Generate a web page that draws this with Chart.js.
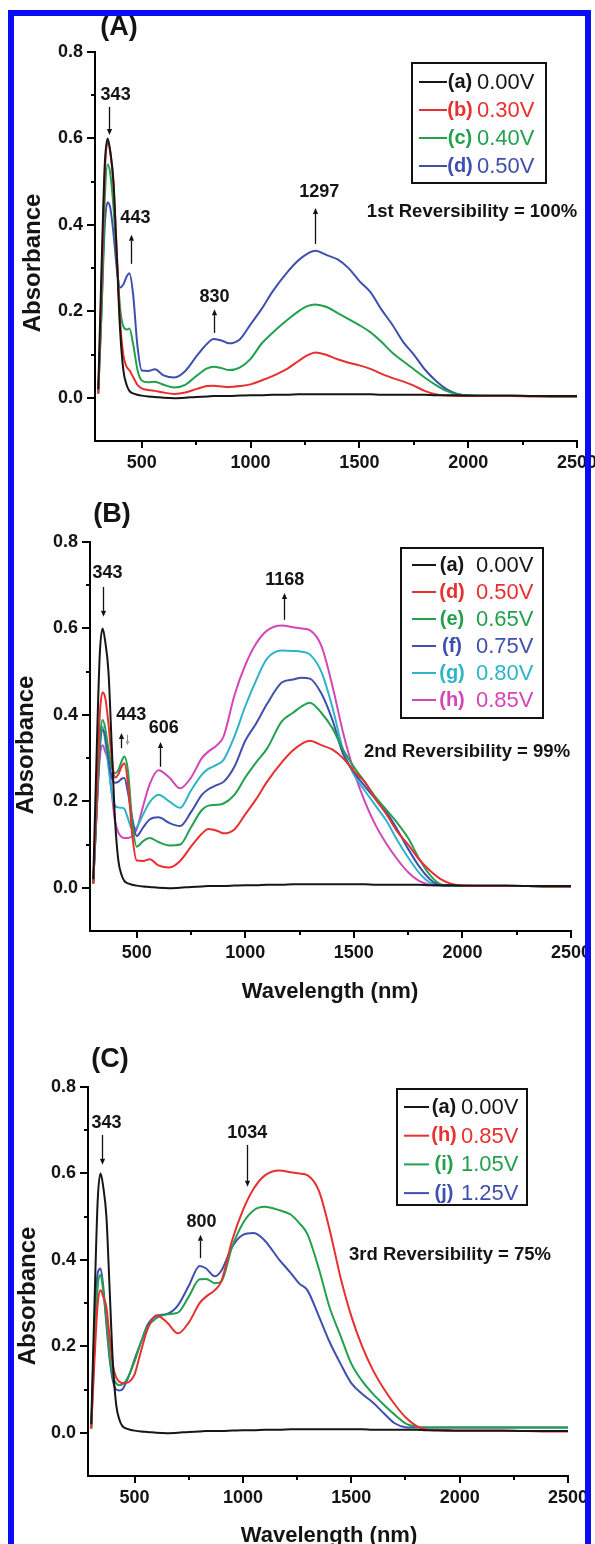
<!DOCTYPE html>
<html>
<head>
<meta charset="utf-8">
<title>Absorbance spectra at applied potentials</title>
<script src="https://cdn.jsdelivr.net/npm/chart.js@4.4.1/dist/chart.umd.min.js"></script>
<style>
  html, body { margin: 0; padding: 0; background: #fff; }
  #page { position: relative; width: 595px; height: 1544px; overflow: hidden; background: #fff; }
  #page canvas { position: absolute; left: 0; }
  #frame {
    position: absolute; left: 8px; top: 10px; width: 583px; height: 1540px;
    border: 6px solid #0a0cf2; box-sizing: border-box; pointer-events: none; z-index: 5;
  }
</style>
</head>
<body>
<div id="page">
  <canvas id="panel-a" width="595" height="490" style="top:0px"></canvas>
  <canvas id="panel-b" width="595" height="520" style="top:490px"></canvas>
  <canvas id="panel-c" width="595" height="534" style="top:1010px"></canvas>
  <div id="frame"></div>
</div>

<script>
// Wavelength grid (nm) shared by every spectrum
const wavelengths = [
  300, 315, 330, 343, 355, 370, 385, 400, 415, 430,
  443, 460, 480, 500, 530, 560, 600, 650, 700, 750,
  800, 830, 870, 900, 950, 1000, 1050, 1100, 1168, 1220,
  1260, 1297, 1350, 1400, 1450, 1500, 1550, 1600, 1650, 1700,
  1750, 1800, 1850, 1900, 1950, 2000, 2100, 2200, 2300, 2400,
  2500
];

// Absorbance at each applied potential
const abs000 = [
  0.02, 0.30, 0.54, 0.60, 0.57, 0.50, 0.33, 0.16, 0.065, 0.03,
  0.016, 0.010, 0.007, 0.005, 0.003, 0.002, 0.000, -0.001, 0.000, 0.002,
  0.003, 0.004, 0.004, 0.004, 0.005, 0.006, 0.006, 0.007, 0.007, 0.008,
  0.008, 0.008, 0.008, 0.008, 0.008, 0.008, 0.008, 0.007, 0.007, 0.007,
  0.007, 0.007, 0.006, 0.006, 0.006, 0.005, 0.005, 0.005, 0.004, 0.004,
  0.004
];
const abs030 = [
  0.01, 0.25, 0.52, 0.59, 0.57, 0.49, 0.34, 0.18, 0.10, 0.072,
  0.064, 0.048, 0.030, 0.022, 0.018, 0.016, 0.012, 0.009, 0.012, 0.020,
  0.027, 0.028, 0.026, 0.025, 0.027, 0.031, 0.040, 0.050, 0.067, 0.085,
  0.098, 0.105, 0.099, 0.089, 0.081, 0.075, 0.067, 0.056, 0.046, 0.038,
  0.028, 0.016, 0.008, 0.005, 0.004, 0.004, 0.004, 0.004, 0.003, 0.003,
  0.003
];
const abs040 = [
  0.01, 0.20, 0.46, 0.54, 0.52, 0.44, 0.32, 0.21, 0.165, 0.158,
  0.160, 0.125, 0.065, 0.040, 0.036, 0.037, 0.030, 0.024, 0.030, 0.050,
  0.068, 0.072, 0.068, 0.064, 0.070, 0.090, 0.125, 0.150, 0.180, 0.200,
  0.212, 0.216, 0.210, 0.196, 0.182, 0.168, 0.152, 0.130, 0.105, 0.085,
  0.066, 0.047, 0.030, 0.016, 0.008, 0.005, 0.004, 0.004, 0.004, 0.003,
  0.003
];
const abs050 = [
  0.01, 0.20, 0.40, 0.452, 0.44, 0.38, 0.30, 0.255, 0.262, 0.280,
  0.288, 0.240, 0.120, 0.063, 0.062, 0.066, 0.052, 0.047, 0.062, 0.095,
  0.125, 0.136, 0.132, 0.126, 0.135, 0.170, 0.205, 0.245, 0.290, 0.318,
  0.333, 0.340, 0.330, 0.320, 0.300, 0.270, 0.245, 0.205, 0.170, 0.130,
  0.100, 0.066, 0.040, 0.020, 0.009, 0.005, 0.004, 0.004, 0.004, 0.003,
  0.003
];
const abs065 = [
  0.01, 0.18, 0.34, 0.388, 0.37, 0.32, 0.28, 0.265, 0.272, 0.292,
  0.304, 0.270, 0.150, 0.095, 0.108, 0.115, 0.106, 0.098, 0.100, 0.140,
  0.180, 0.190, 0.192, 0.195, 0.215, 0.255, 0.290, 0.322, 0.385, 0.405,
  0.420, 0.428, 0.405, 0.370, 0.320, 0.280, 0.245, 0.210, 0.180, 0.150,
  0.115, 0.068, 0.030, 0.008, 0.005, 0.004, 0.004, 0.004, 0.004, 0.003,
  0.003
];
const abs075 = [
  0.01, 0.17, 0.32, 0.365, 0.35, 0.30, 0.255, 0.243, 0.245, 0.252,
  0.254, 0.220, 0.160, 0.120, 0.140, 0.158, 0.163, 0.150, 0.143, 0.175,
  0.215, 0.228, 0.238, 0.245, 0.280, 0.340, 0.380, 0.425, 0.475, 0.482,
  0.486, 0.484, 0.450, 0.390, 0.310, 0.268, 0.235, 0.205, 0.175, 0.135,
  0.090, 0.050, 0.020, 0.006, 0.005, 0.004, 0.004, 0.004, 0.004, 0.003,
  0.003
];
const abs080 = [
  0.01, 0.17, 0.33, 0.373, 0.34, 0.28, 0.22, 0.190, 0.186, 0.185,
  0.183, 0.160, 0.135, 0.140, 0.170, 0.198, 0.215, 0.200, 0.185, 0.225,
  0.262, 0.275, 0.285, 0.296, 0.350, 0.420, 0.480, 0.530, 0.549, 0.548,
  0.546, 0.540, 0.500, 0.420, 0.320, 0.262, 0.225, 0.190, 0.155, 0.110,
  0.070, 0.035, 0.012, 0.006, 0.005, 0.004, 0.004, 0.004, 0.004, 0.003,
  0.003
];
const abs085 = [
  0.01, 0.17, 0.30, 0.330, 0.315, 0.29, 0.22, 0.155, 0.128, 0.118,
  0.115, 0.115, 0.120, 0.135, 0.190, 0.240, 0.272, 0.255, 0.230, 0.255,
  0.300, 0.315, 0.330, 0.350, 0.445, 0.515, 0.565, 0.595, 0.607, 0.603,
  0.600, 0.596, 0.560, 0.470, 0.360, 0.270, 0.200, 0.145, 0.102, 0.066,
  0.036, 0.016, 0.007, 0.005, 0.004, 0.004, 0.004, 0.004, 0.004, 0.003,
  0.003
];
const abs105 = [
  0.01, 0.20, 0.34, 0.365, 0.33, 0.26, 0.18, 0.130, 0.115, 0.110,
  0.112, 0.120, 0.140, 0.165, 0.210, 0.245, 0.265, 0.274, 0.278, 0.315,
  0.355, 0.356, 0.346, 0.350, 0.430, 0.485, 0.515, 0.523, 0.515, 0.505,
  0.485, 0.460, 0.380, 0.290, 0.225, 0.160, 0.120, 0.090, 0.065, 0.042,
  0.022, 0.014, 0.012, 0.012, 0.012, 0.012, 0.012, 0.012, 0.012, 0.012,
  0.012
];
const abs125 = [
  0.01, 0.25, 0.37, 0.380, 0.34, 0.25, 0.17, 0.120, 0.100, 0.098,
  0.100, 0.115, 0.140, 0.170, 0.210, 0.250, 0.270, 0.275, 0.295, 0.340,
  0.386, 0.380, 0.362, 0.375, 0.430, 0.458, 0.462, 0.445, 0.400, 0.370,
  0.345, 0.330, 0.270, 0.210, 0.160, 0.115, 0.090, 0.070, 0.045, 0.022,
  0.013, 0.012, 0.012, 0.012, 0.012, 0.012, 0.012, 0.012, 0.012, 0.012,
  0.012
];

// Axis ticks
const xTicks = [500, 1000, 1500, 2000, 2500];
const xMinorTicks = [750, 1250, 1750, 2250];
const yTicks = [0.0, 0.2, 0.4, 0.6, 0.8];
const yMinorTicks = [0.1, 0.3, 0.5, 0.7];

// Legend entries per panel
const namesA = ['(a) 0.00V', '(b) 0.30V', '(c) 0.40V', '(d) 0.50V'];
const namesB = ['(a) 0.00V', '(d) 0.50V', '(e) 0.65V', '(f) 0.75V', '(g) 0.80V', '(h) 0.85V'];
const namesC = ['(a) 0.00V', '(h) 0.85V', '(i) 1.05V', '(j) 1.25V'];

// Marked band positions (nm)
const peaksA = [343, 443, 830, 1297];
const peaksB = [343, 443, 606, 1168];
const peaksC = [343, 800, 1034];

const reversibility = ['1st Reversibility = 100%', '2nd Reversibility = 99%', '3rd Reversibility = 75%'];

const COLORS = {
  black: '#161616',
  red: '#e7302f',
  green: '#22a04e',
  blue: '#3f4fae',
  cyan: '#2db4c6',
  magenta: '#d446b6'
};

const FONT = '"Liberation Sans", Arial, Helvetica, sans-serif';
const TEXT = '#141414';

// width reserved for the y tick labels, height for the x tick labels
const Y_AXIS_W = 70;
const X_AXIS_H = 40;

const panels = [
  {
    canvas: 'panel-a',
    letter: { text: '(A)', x: 119, y: 28 },
    area: { left: 95, top: 52, right: 577, bottom: 441 },
    series: [abs000, abs030, abs040, abs050],
    names: namesA,
    colors: [COLORS.black, COLORS.red, COLORS.green, COLORS.blue],
    legend: { left: 412, top: 63, width: 134, height: 120, first: 19, rowH: 28, line: [419, 447], tagX: 460, voltX: 477 },
    notes: [
      { peak: peaksA[0], dx: 8, textY: 0.700, arrows: [{ dx: 1, from: 0.673, to: 0.608 }] },
      { peak: peaksA[1], dx: 6, textY: 0.416, arrows: [{ dx: 2, from: 0.310, to: 0.377 }] },
      { peak: peaksA[2], dx: 1, textY: 0.233, arrows: [{ dx: 0, from: 0.150, to: 0.205 }] },
      { peak: peaksA[3], dx: 4, textY: 0.476, arrows: [{ dx: 0, from: 0.356, to: 0.439 }] }
    ],
    remark: { text: reversibility[0], x: 472, y: 212 },
    yTitle: { x: 33, y: 263 },
    xTitle: null
  },
  {
    canvas: 'panel-b',
    letter: { text: '(B)', x: 112, y: 25 },
    area: { left: 90, top: 52, right: 571, bottom: 441 },
    series: [abs000, abs050, abs065, abs075, abs080, abs085],
    names: namesB,
    colors: [COLORS.black, COLORS.red, COLORS.green, COLORS.blue, COLORS.cyan, COLORS.magenta],
    legend: { left: 401, top: 58, width: 142, height: 170, first: 17, rowH: 27, line: [412, 436], tagX: 452, voltX: 476 },
    notes: [
      { peak: peaksB[0], dx: 5, textY: 0.728, arrows: [{ dx: 0, from: 0.696, to: 0.627 }] },
      { peak: peaksB[1], dx: 7, textY: 0.400, arrows: [
        { dx: -3.5, from: 0.323, to: 0.358 },
        { dx: 2.5, from: 0.354, to: 0.330, light: true }
      ] },
      { peak: peaksB[2], dx: 4, textY: 0.370, arrows: [{ dx: 0, from: 0.280, to: 0.337 }] },
      { peak: peaksB[3], dx: 3, textY: 0.712, arrows: [{ dx: 2, from: 0.620, to: 0.682 }] }
    ],
    remark: { text: reversibility[1], x: 467, y: 262 },
    yTitle: { x: 26, y: 255 },
    xTitle: { x: 330, y: 502 }
  },
  {
    canvas: 'panel-c',
    letter: { text: '(C)', x: 110, y: 50 },
    area: { left: 88, top: 77, right: 568, bottom: 466 },
    series: [abs000, abs085, abs105, abs125],
    names: namesC,
    colors: [COLORS.black, COLORS.red, COLORS.green, COLORS.blue],
    legend: { left: 397, top: 79, width: 130, height: 116, first: 18, rowH: 28.7, line: [404, 429], tagX: 444, voltX: 461 },
    notes: [
      { peak: peaksC[0], dx: 6, textY: 0.717, arrows: [{ dx: 1, from: 0.689, to: 0.620 }] },
      { peak: peaksC[1], dx: 2, textY: 0.488, arrows: [{ dx: 0, from: 0.404, to: 0.458 }] },
      { peak: peaksC[2], dx: -3, textY: 0.694, arrows: [{ dx: -3, from: 0.666, to: 0.569 }] }
    ],
    remark: { text: reversibility[2], x: 450, y: 245 },
    yTitle: { x: 28, y: 286 },
    xTitle: { x: 329, y: 526 }
  }
];

function drawArrow(ctx, x, y0, y1, light) {
  const dir = y1 > y0 ? 1 : -1;
  const head = light ? 4 : 6;
  const half = light ? 1.8 : 2.6;
  ctx.strokeStyle = light ? '#8a8a8a' : '#111';
  ctx.fillStyle = ctx.strokeStyle;
  ctx.lineWidth = light ? 1 : 1.3;
  ctx.beginPath();
  ctx.moveTo(x, y0);
  ctx.lineTo(x, y1 - dir * head);
  ctx.stroke();
  ctx.beginPath();
  ctx.moveTo(x, y1);
  ctx.lineTo(x - half, y1 - dir * head);
  ctx.lineTo(x + half, y1 - dir * head);
  ctx.closePath();
  ctx.fill();
}

// Draws minor ticks, axis titles, band markers and the boxed legend
function makeDecor(panel) {
  return {
    id: 'spectraDecor',
    afterDraw(chart) {
      const { ctx, chartArea } = chart;
      const xs = chart.scales.x;
      const ys = chart.scales.y;
      ctx.save();

      ctx.strokeStyle = '#000';
      ctx.lineWidth = 2;
      ctx.beginPath();
      xMinorTicks.forEach(v => {
        const px = Math.round(xs.getPixelForValue(v));
        ctx.moveTo(px, chartArea.bottom);
        ctx.lineTo(px, chartArea.bottom + 4);
      });
      yMinorTicks.forEach(v => {
        const py = Math.round(ys.getPixelForValue(v));
        ctx.moveTo(chartArea.left, py);
        ctx.lineTo(chartArea.left - 4, py);
      });
      ctx.stroke();

      ctx.fillStyle = TEXT;
      ctx.textAlign = 'center';
      ctx.textBaseline = 'middle';

      // panel letter
      ctx.font = `bold 27px ${FONT}`;
      ctx.fillText(panel.letter.text, panel.letter.x, panel.letter.y);

      // axis titles
      ctx.font = `bold 24px ${FONT}`;
      ctx.save();
      ctx.translate(panel.yTitle.x, panel.yTitle.y);
      ctx.rotate(-Math.PI / 2);
      ctx.fillText('Absorbance', 0, 0);
      ctx.restore();
      if (panel.xTitle) {
        ctx.font = `bold 22px ${FONT}`;
        ctx.fillText('Wavelength (nm)', panel.xTitle.x, panel.xTitle.y);
      }

      // band labels with arrows
      panel.notes.forEach(note => {
        const px = xs.getPixelForValue(note.peak);
        ctx.fillStyle = TEXT;
        ctx.font = `bold 18px ${FONT}`;
        ctx.fillText(String(note.peak), px + note.dx, ys.getPixelForValue(note.textY));
        note.arrows.forEach(a => {
          drawArrow(ctx, Math.round(px + a.dx) + 0.5, ys.getPixelForValue(a.from), ys.getPixelForValue(a.to), a.light);
        });
      });

      ctx.fillStyle = TEXT;
      ctx.font = `bold 18.5px ${FONT}`;
      ctx.fillText(panel.remark.text, panel.remark.x, panel.remark.y);

      // legend box
      const lg = panel.legend;
      ctx.strokeStyle = '#111';
      ctx.lineWidth = 2;
      ctx.strokeRect(lg.left, lg.top, lg.width, lg.height);
      panel.names.forEach((name, i) => {
        const y = lg.top + lg.first + lg.rowH * i;
        const color = panel.colors[i];
        const cut = name.indexOf(' ');
        ctx.strokeStyle = color;
        ctx.lineWidth = 2;
        ctx.beginPath();
        ctx.moveTo(lg.line[0], y);
        ctx.lineTo(lg.line[1], y);
        ctx.stroke();
        ctx.fillStyle = color;
        ctx.textAlign = 'center';
        ctx.font = `bold 20px ${FONT}`;
        ctx.fillText(name.slice(0, cut), lg.tagX, y);
        ctx.textAlign = 'left';
        ctx.font = `22px ${FONT}`;
        ctx.fillText(name.slice(cut + 1), lg.voltX, y + 1);
      });

      ctx.restore();
    }
  };
}

function buildPanel(panel) {
  const canvas = document.getElementById(panel.canvas);
  const a = panel.area;
  return new Chart(canvas, {
    type: 'line',
    data: {
      datasets: panel.series.map((values, i) => ({
        label: panel.names[i],
        data: wavelengths.map((wl, k) => ({ x: wl, y: values[k] })),
        borderColor: panel.colors[i],
        borderWidth: 2,
        pointRadius: 0,
        cubicInterpolationMode: 'monotone',
        fill: false
      }))
    },
    options: {
      responsive: false,
      animation: false,
      events: [],
      layout: {
        padding: {
          left: a.left - Y_AXIS_W,
          top: a.top,
          right: canvas.width - a.right,
          bottom: canvas.height - a.bottom - X_AXIS_H
        }
      },
      plugins: {
        legend: { display: false },
        tooltip: { enabled: false },
        title: { display: false }
      },
      scales: {
        x: {
          type: 'linear',
          min: 285,
          max: 2500,
          afterBuildTicks: axis => { axis.ticks = xTicks.map(v => ({ value: v })); },
          afterFit: axis => {
            axis.height = X_AXIS_H;
            axis.paddingLeft = 0;
            axis.paddingRight = 0;
          },
          ticks: {
            autoSkip: false,
            maxRotation: 0,
            padding: 4,
            color: TEXT,
            font: { family: FONT, size: 18, weight: 'bold' },
            callback: v => String(v)
          },
          grid: { drawOnChartArea: false, color: '#000', lineWidth: 2, tickLength: 7 },
          border: { color: '#000', width: 2 }
        },
        y: {
          type: 'linear',
          min: -0.1,
          max: 0.8,
          afterBuildTicks: axis => { axis.ticks = yTicks.map(v => ({ value: v })); },
          afterFit: axis => {
            axis.width = Y_AXIS_W;
            axis.paddingTop = 0;
            axis.paddingBottom = 0;
          },
          ticks: {
            autoSkip: false,
            padding: 4,
            color: TEXT,
            font: { family: FONT, size: 18, weight: 'bold' },
            callback: v => Number(v).toFixed(1)
          },
          grid: { drawOnChartArea: false, color: '#000', lineWidth: 2, tickLength: 8 },
          border: { color: '#000', width: 2 }
        }
      }
    },
    plugins: [makeDecor(panel)]
  });
}

document.addEventListener('DOMContentLoaded', () => {
  panels.forEach(buildPanel);
});
</script>
</body>
</html>
